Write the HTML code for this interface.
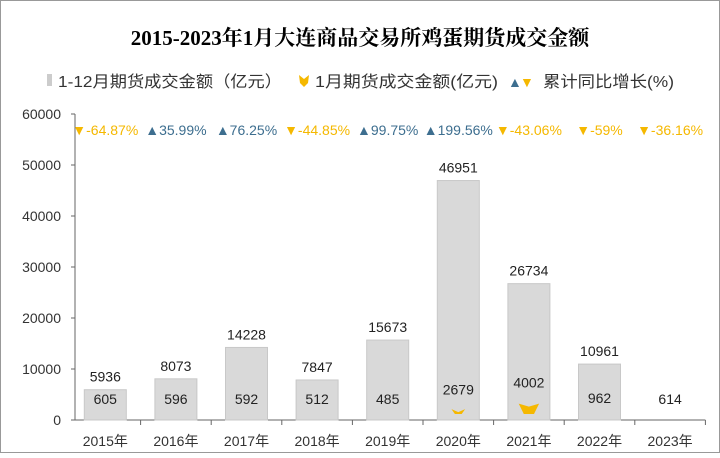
<!DOCTYPE html>
<html><head><meta charset="utf-8"><style>
body{margin:0;background:#fff}
svg text{font-family:"Liberation Sans","Noto Sans CJK SC",sans-serif}
</style></head><body>
<svg width="720" height="453" id="c">
<rect x="0.5" y="0.5" width="719" height="452" fill="#fff" stroke="#999"/>
<text x="360" y="45" text-anchor="middle" font-size="21" font-weight="bold" style="font-family:'Liberation Serif','Noto Serif CJK SC',serif">2015-2023年1月大连商品交易所鸡蛋期货成交金额</text>
<g font-size="16" fill="#333">
<rect x="47" y="74" width="5" height="12" fill="#ccc"/>
<text x="58" y="87" textLength="224" lengthAdjust="spacingAndGlyphs">1-12月期货成交金额（亿元）</text>
<path d="M299 75 l5 4 5-4 -1 8 -4 4 -4-4z" fill="#f5b800"/>
<text x="315" y="87" textLength="183" lengthAdjust="spacingAndGlyphs">1月期货成交金额(亿元)</text>
<text x="508" y="87" fill="#3d6e8f" font-size="14">▲</text><text x="520" y="87" fill="#f5b800" font-size="14">▼</text>
<text x="543" y="87" textLength="131" lengthAdjust="spacingAndGlyphs">累计同比增长(%)</text>
</g>
<g id="axes"></g><g id="marks"></g>
</svg>
<script>
const categories=["2015年","2016年","2017年","2018年","2019年","2020年","2021年","2022年","2023年"];
const totals=[5936,8073,14228,7847,15673,46951,26734,10961,null];
const januaryValues=[605,596,592,512,485,2679,4002,962,614];
const growth=[-64.87,35.99,76.25,-44.85,99.75,199.56,-43.06,-59,-36.16];
const yTicks=[0,10000,20000,30000,40000,50000,60000];
const X0=70,STEP=70.6,Y0=420,YMAX=60000,H=306;
const y=v=>Y0-v/YMAX*H, cx=i=>X0+STEP*(i+0.5);
const NS="http://www.w3.org/2000/svg";
function mk(p,t,a,txt){const e=document.createElementNS(NS,t);for(const k in a)e.setAttribute(k,a[k]);if(txt!=null)e.textContent=txt;p.appendChild(e);return e;}
const ax=document.getElementById('axes'),mg=document.getElementById('marks');
let l=mk(ax,'line',{x1:X0+5,y1:y(YMAX),x2:X0+5,y2:Y0,stroke:'#666'});


l=mk(ax,'line',{x1:X0+5,y1:Y0,x2:X0+STEP*9,y2:Y0,stroke:'#666'});


yTicks.forEach(v=>{mk(ax,'line',{x1:X0+1,x2:X0+5,y1:y(v),y2:y(v),stroke:'#666'});
const t=mk(ax,'text',{x:X0-9,y:y(v)+5,'text-anchor':'end','font-size':14,fill:'#333'},v);

});
categories.forEach((c,i)=>{
mk(ax,'line',{x1:X0+STEP*(i+1),x2:X0+STEP*(i+1),y1:Y0,y2:Y0+5,stroke:'#666'});
const t=mk(ax,'text',{x:cx(i),y:Y0+26,'text-anchor':'middle','font-size':14,fill:'#333'},c);


if(totals[i]!=null){
const b=mk(mg,'rect',{x:cx(i)-21,y:y(totals[i]),width:42,height:Y0-y(totals[i]),fill:'#d9d9d9',stroke:'#c8c8c8'});


const tl=mk(mg,'text',{x:cx(i),y:y(totals[i])-8,'text-anchor':'middle','font-size':14,fill:'#222'},totals[i]);

}
const jy=y(januaryValues[i]);
if(Y0-jy>6){const w=Math.min(22,(Y0-jy)*1.0);const top=Math.max(jy,Y0-(Y0-jy)*0.8);
const m=mk(mg,'path',{d:`M${cx(i)-w/2} ${top} L${cx(i)} ${top+3} L${cx(i)+w/2} ${top} L${cx(i)+w/4} ${Y0-6} L${cx(i)-w/4} ${Y0-6}Z`,fill:'#f5b800'});

}
const jl=mk(mg,'text',{x:cx(i),y:Y0-Math.max(16,Y0-jy+12),'text-anchor':'middle','font-size':14,fill:'#222'},januaryValues[i]);


const up=growth[i]>0;
const g=mk(mg,'text',{x:cx(i),y:135,'text-anchor':'middle','font-size':14,fill:up?'#3d6e8f':'#f5b800'},(up?'▲':'▼')+growth[i]+'%');


});
</script>
</body></html>
